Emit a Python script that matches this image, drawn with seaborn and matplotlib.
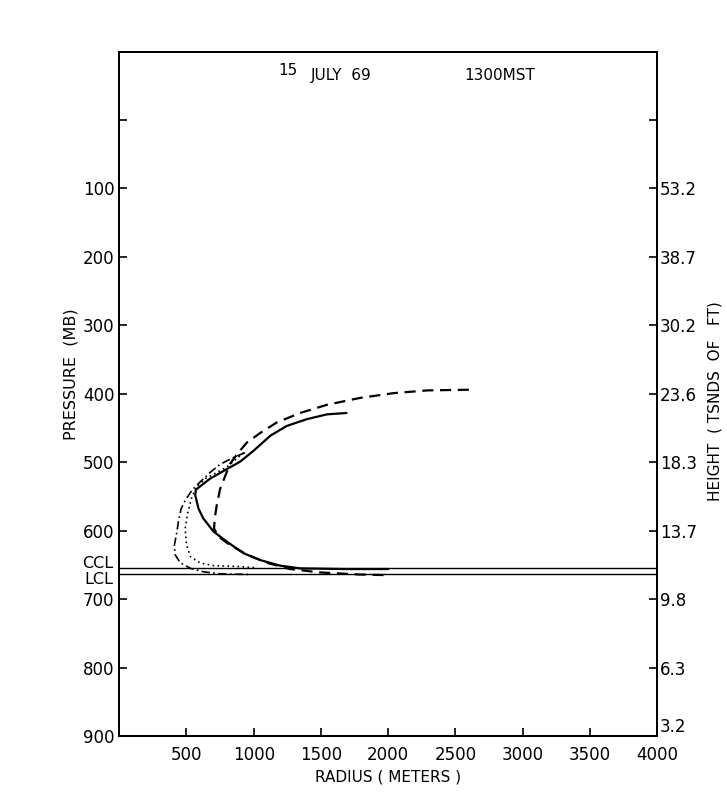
import matplotlib
matplotlib.use("Agg")
import matplotlib.pyplot as plt
import numpy as np
import pandas as pd
import seaborn as sns

sns.set_theme(style="ticks")
plt.rcParams['font.family'] = ['DejaVu Sans']
plt.rcParams['font.size'] = 12
plt.rcParams['text.color'] = 'black'
plt.rcParams['axes.labelcolor'] = 'black'
plt.rcParams['xtick.color'] = 'black'
plt.rcParams['ytick.color'] = 'black'

# radius (m) vs pressure (mb)
solid_r = [1690, 1545, 1395, 1245, 1125, 1000, 900, 800, 675, 570, 565, 590, 625, 700, 800, 925, 1050, 1195, 1345, 1670, 2000]
solid_p = [428, 430, 437, 447, 461, 483, 499, 510, 524, 540, 548, 568, 582, 601, 616, 633, 643, 651, 655, 656, 656]

dashed_r = [2600, 2290, 2040, 1790, 1545, 1345, 1170, 1050, 950, 885, 825, 790, 750, 725, 710, 705, 740, 825, 950, 1100, 1270, 1495, 1790, 2015]
dashed_p = [394, 395, 399, 406, 416, 428, 442, 457, 471, 486, 502, 519, 539, 563, 582, 597, 609, 621, 635, 647, 656, 661, 664, 665]

dashdot_r = [935, 850, 750, 675, 600, 540, 490, 460, 440, 425, 410, 415, 455, 530, 625, 750, 975]
dashdot_p = [486, 493, 503, 515, 529, 541, 556, 568, 587, 606, 621, 635, 647, 655, 660, 663, 664]

dotted_r = [925, 800, 725, 640, 575, 540, 510, 490, 500, 530, 600, 700, 850, 1010]
dotted_p = [486, 507, 515, 524, 536, 551, 573, 597, 621, 638, 647, 651, 652, 654]

ccl_p = 655
lcl_p = 663

x_ticks = [500, 1000, 1500, 2000, 2500, 3000, 3500, 4000]
p_ticks = [0, 100, 200, 300, 400, 500, 600, 700, 800, 900]
height_labels = ["", "53.2", "38.7", "30.2", "23.6", "18.3", "13.7", "9.8", "6.3", "3.2"]

fig = plt.figure(figsize=(7.27, 7.94), dpi=100)
ax = fig.add_axes([0.164, 0.073, 0.740, 0.862])

curves = [
    (solid_r, solid_p, '-', 1.6),
    (dashed_r, dashed_p, (0, (5, 3)), 1.6),
    (dashdot_r, dashdot_p, (0, (5, 2, 1, 2)), 1.2),
    (dotted_r, dotted_p, (0, (1, 2)), 1.2),
]
for r, p, ls, lw in curves:
    df = pd.DataFrame({'r': r, 'p': p})
    sns.lineplot(data=df, x='r', y='p', sort=False, estimator=None,
                 color='black', linestyle=ls, linewidth=lw, ax=ax)

ax.axhline(ccl_p, color='black', linewidth=1.0)
ax.axhline(lcl_p, color='black', linewidth=1.0)

ax.set_xlim(0, 4000)
ax.set_ylim(900, -100)
ax.set_xticks(x_ticks)
ax.set_yticks(p_ticks)
ax.set_yticklabels([""] + [str(v) for v in p_ticks[1:]])
ax.tick_params(direction='in', length=6, width=1.2, labelsize=12)
ax.tick_params(axis='x', pad=7)
for s in ax.spines.values():
    s.set_linewidth(1.4)
    s.set_color('black')

ax.set_xlabel("RADIUS ( METERS )", fontsize=11, labelpad=4)
ax.set_ylabel("PRESSURE  (MB)", fontsize=11.5)
ax.yaxis.set_label_coords(-0.076, 0.528)

ax.text(-0.012, 648, "CCL", transform=ax.get_yaxis_transform(), ha='right', va='center', fontsize=11.5)
ax.text(-0.012, 671, "LCL", transform=ax.get_yaxis_transform(), ha='right', va='center', fontsize=11.5)

ax.text(0.296, 0.972, "15", transform=ax.transAxes, ha='left', va='center', fontsize=11)
ax.text(0.357, 0.965, "JULY  69", transform=ax.transAxes, ha='left', va='center', fontsize=11)
ax.text(0.641, 0.965, "1300MST", transform=ax.transAxes, ha='left', va='center', fontsize=11)

ax2 = ax.twinx()
ax2.set_ylim(900, -100)
ax2.set_yticks(p_ticks)
ax2.set_yticklabels(height_labels)
ax2.tick_params(direction='in', length=6, width=1.2, labelsize=12, pad=2)
ax2.get_yticklabels()[-1].set_verticalalignment('bottom')
ax2.set_ylabel("HEIGHT  ( TSNDS  OF   FT)", fontsize=11)
ax2.yaxis.set_label_coords(1.094, 0.49)
for s in ax2.spines.values():
    s.set_linewidth(1.4)
    s.set_color('black')

fig.savefig("out.png", dpi=100)
